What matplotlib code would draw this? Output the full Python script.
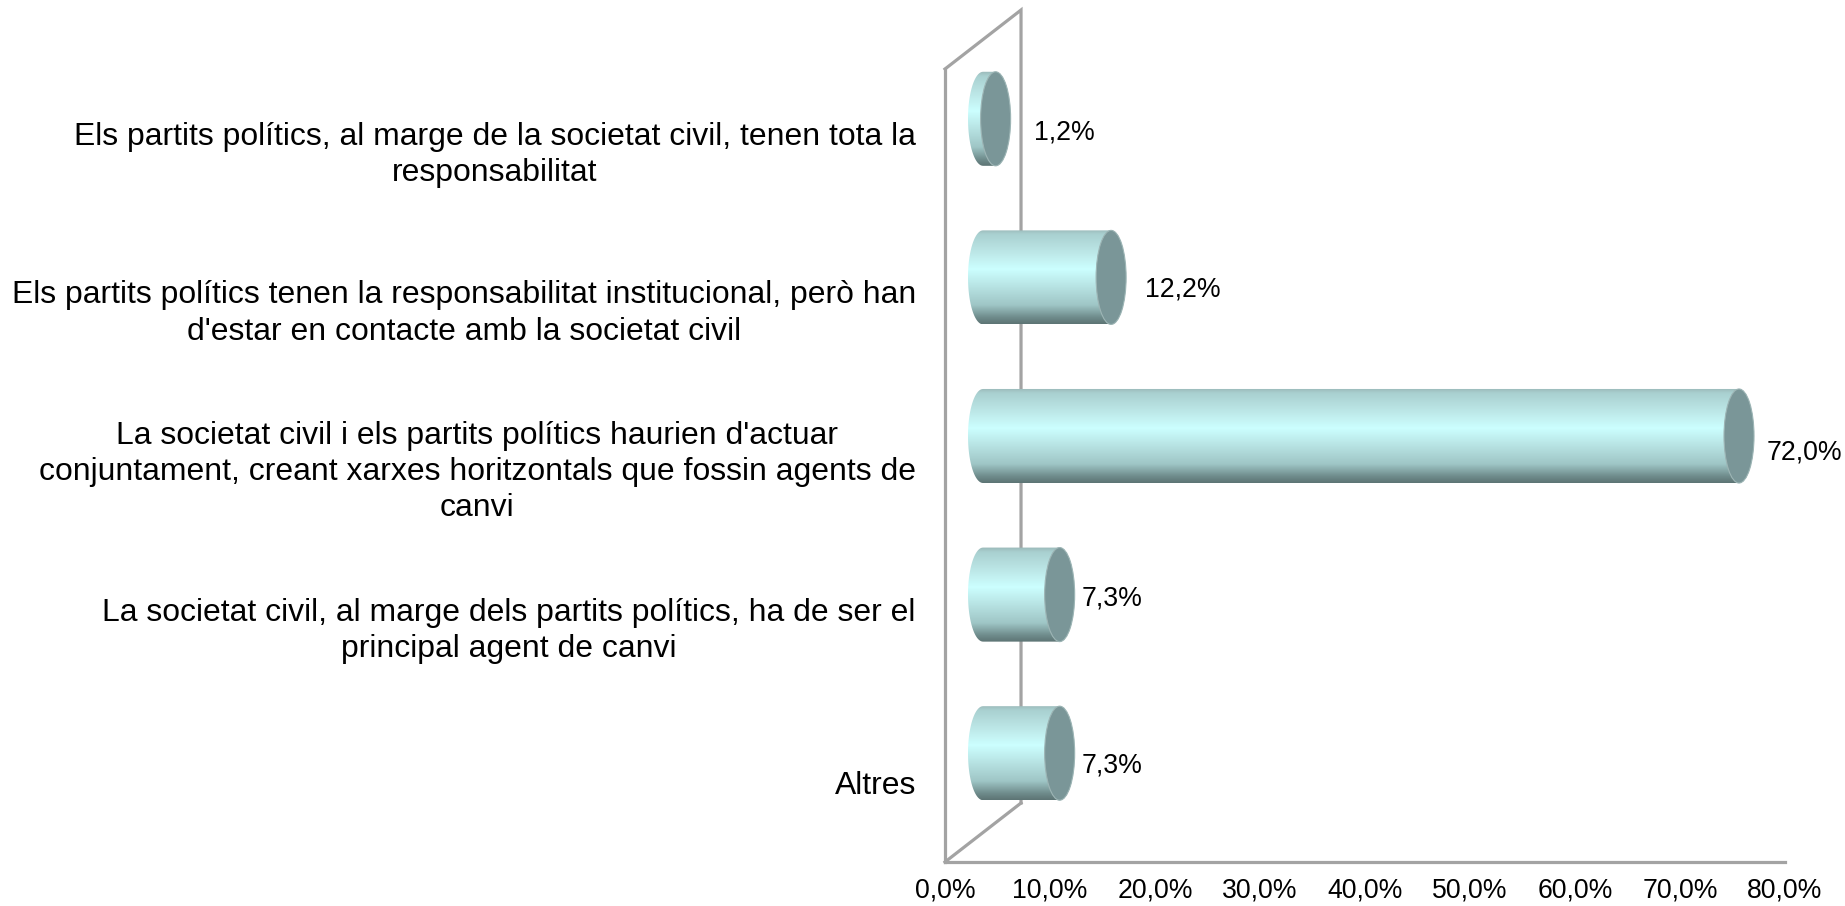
import numpy as np
import matplotlib
matplotlib.use("Agg")
import matplotlib.pyplot as plt
from matplotlib.colors import LinearSegmentedColormap
from matplotlib.patches import Ellipse, PathPatch
from matplotlib.path import Path

plt.rcParams['font.family'] = ['Liberation Sans', 'DejaVu Sans']

categories = [
    "Els partits polítics, al marge de la societat civil, tenen tota la\nresponsabilitat",
    "Els partits polítics tenen la responsabilitat institucional, però han\nd'estar en contacte amb la societat civil",
    "La societat civil i els partits polítics haurien d'actuar\nconjuntament, creant xarxes horitzontals que fossin agents de\ncanvi",
    "La societat civil, al marge dels partits polítics, ha de ser el\nprincipal agent de canvi",
    "Altres",
]
values = [1.2, 12.2, 72.0, 7.3, 7.3]
value_labels = ["1,2%", "12,2%", "72,0%", "7,3%", "7,3%"]
x_ticks = [0, 10, 20, 30, 40, 50, 60, 70, 80]
x_tick_labels = ["0,0%", "10,0%", "20,0%", "30,0%", "40,0%", "50,0%", "60,0%", "70,0%", "80,0%"]

# label nudges in points, the original places them by hand
label_dx = [55, 52, 47, 43, 43]
label_dy = [11.5, 12.7, 9.4, 18.7, 12.7]

wall_color = "#a3a3a3"
cap_color = "#7a9698"
depth_x = 7.24
depth_y = 0.372
bar_h = 0.593
cap_w = 2.86

cyl_cmap = LinearSegmentedColormap.from_list("cyl", [
    (0.0, "#9ab8b8"), (0.05, "#a9d0d0"), (0.25, "#bde8e8"), (0.42, "#ccffff"),
    (0.6, "#b8e4e4"), (0.8, "#9fc6c6"), (0.93, "#6f8c8c"), (1.0, "#5d7474"),
])

fig = plt.figure(figsize=(18.45, 9.06), dpi=100)
ax = fig.add_axes([945 / 1845, (906 - 862) / 906, 840 / 1845, 793 / 906])


def cylinder_path(x0, x1, yc):
    # left end bulges out, right end is closed by the cap
    t = np.linspace(np.pi / 2, 3 * np.pi / 2, 40)
    left = np.column_stack([x0 + cap_w / 2 * np.cos(t), yc - bar_h / 2 * np.sin(t)])
    t = np.linspace(3 * np.pi / 2, 5 * np.pi / 2, 40)
    right = np.column_stack([x1 + cap_w / 2 * np.cos(t), yc - bar_h / 2 * np.sin(t)])
    return Path(np.vstack([left, right, left[:1]]))


# back wall lines
ax.plot([0, depth_x, depth_x], [-0.5, -0.5 - depth_y, 4.5 - depth_y], color=wall_color, lw=2.3,
        clip_on=False, zorder=1, solid_joinstyle="miter")
ax.plot([0, depth_x], [4.5, 4.5 - depth_y], color=wall_color, lw=2.3, clip_on=False, zorder=1)

gradient = np.linspace(0, 1, 256).reshape(-1, 1)
for i, val in enumerate(values):
    x0 = depth_x / 2
    x1 = x0 + val
    yc = i - depth_y / 2
    im = ax.imshow(gradient, cmap=cyl_cmap, aspect="auto", zorder=3,
                   extent=[x0 - cap_w / 2, x1 + cap_w / 2, yc + bar_h / 2, yc - bar_h / 2])
    im.set_clip_path(PathPatch(cylinder_path(x0, x1, yc), transform=ax.transData))
    ax.add_patch(Ellipse((x1, yc), cap_w, bar_h, facecolor=cap_color, edgecolor="#9db5b5", lw=0.8, zorder=4))
    ax.annotate(value_labels[i], (val, i), xytext=(label_dx[i], label_dy[i]), textcoords="offset points",
                ha="left", va="center", fontsize=19.2, color="black", zorder=5, annotation_clip=False)

ax.set_xlim(0, 80)
ax.set_ylim(4.5, -0.5)
ax.set_xticks(x_ticks)
ax.set_xticklabels(x_tick_labels, fontsize=19.2, color="black")
ax.set_yticks(range(len(categories)))
ax.set_yticklabels(categories, fontsize=22.95, color="black", multialignment="center", linespacing=1.27)
ax.tick_params(axis="x", length=0, pad=11)
ax.tick_params(axis="y", length=0, pad=21)

for s in ["top", "right"]:
    ax.spines[s].set_visible(False)
for s in ["left", "bottom"]:
    ax.spines[s].set_color(wall_color)
    ax.spines[s].set_linewidth(2.3)

fig.savefig("out.png", dpi=100)
